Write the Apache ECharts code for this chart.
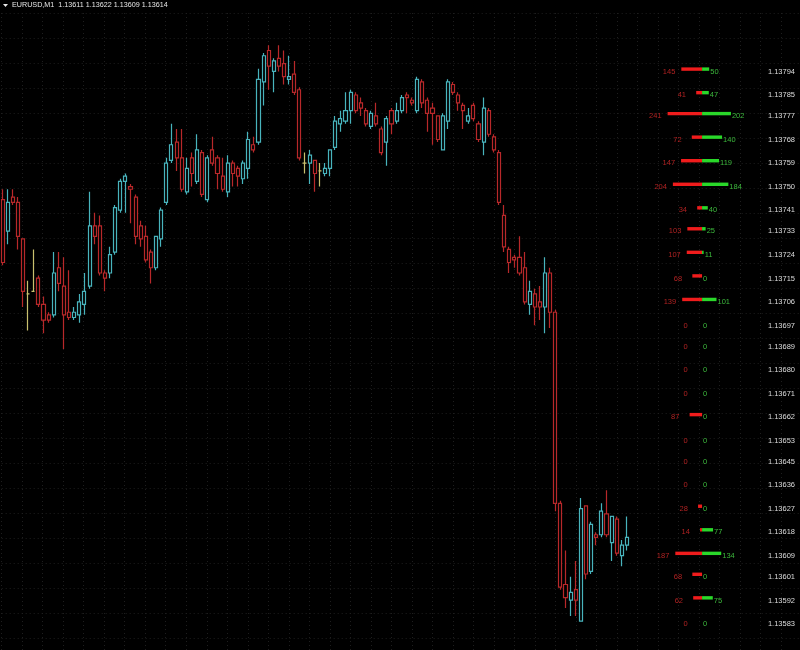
<!DOCTYPE html>
<html><head><meta charset="utf-8">
<script src="https://cdn.jsdelivr.net/npm/echarts/dist/echarts.min.js"></script>
<style>html,body{margin:0;padding:0;background:#000}#c{width:800px;height:650px}</style>
</head><body><div id="c"></div>
<script>
const symbolName = 'EURUSD,M1';
const opens = [1.13743,1.13731,1.13744,1.13742,1.13728,1.13707,1.13708,1.13713,1.13703,1.13699,
1.13699,1.13717,1.13710,1.13700,1.13698,1.13699,1.13703,1.13710,1.13733,1.13733,
1.13715,1.13715,1.13723,1.13739,1.13750,1.13748,1.13744,1.13733,1.13729,1.13723,
1.13717,1.13728,1.13742,1.13758,1.13765,1.13759,1.13746,1.13759,1.13750,1.13761,
1.13743,1.13762,1.13759,1.13752,1.13746,1.13757,1.13755,1.13751,1.13755,1.13764,
1.13765,1.13788,1.13800,1.13792,1.13797,1.13795,1.13789,1.13791,1.13785,1.13757,
1.13757,1.13758,1.13754,1.13753,1.13755,1.13763,1.13772,1.13773,1.13777,1.13783,
1.13780,1.13777,1.13771,1.13775,1.13770,1.13765,1.13777,1.13773,1.13777,1.13783,
1.13781,1.13777,1.13788,1.13781,1.13778,1.13775,1.13762,1.13773,1.13787,1.13783,
1.13779,1.13773,1.13779,1.13772,1.13765,1.13777,1.13767,1.13761,1.13737,1.13724,
1.13721,1.13721,1.13717,1.13703,1.13707,1.13704,1.13702,1.13715,1.13700,1.13627,
1.13596,1.13590,1.13594,1.13582,1.13626,1.13601,1.13615,1.13615,1.13623,1.13612,
1.13621,1.13607,1.13611];
const highs = [1.13747,1.13747,1.13747,1.13744,1.13728,1.13712,1.13724,1.13714,1.13706,1.13700,
1.13723,1.13723,1.13721,1.13716,1.13702,1.13707,1.13715,1.13746,1.13738,1.13737,
1.13716,1.13725,1.13741,1.13751,1.13753,1.13749,1.13745,1.13735,1.13733,1.13724,
1.13729,1.13740,1.13759,1.13772,1.13770,1.13770,1.13759,1.13761,1.13768,1.13762,
1.13760,1.13767,1.13760,1.13759,1.13760,1.13758,1.13756,1.13758,1.13769,1.13767,
1.13793,1.13799,1.13802,1.13797,1.13802,1.13800,1.13798,1.13796,1.13786,1.13761,
1.13762,1.13758,1.13757,1.13757,1.13762,1.13775,1.13777,1.13784,1.13785,1.13784,
1.13782,1.13778,1.13777,1.13780,1.13771,1.13775,1.13778,1.13780,1.13783,1.13784,
1.13782,1.13790,1.13789,1.13782,1.13780,1.13775,1.13776,1.13789,1.13788,1.13784,
1.13780,1.13778,1.13780,1.13773,1.13782,1.13778,1.13768,1.13762,1.13741,1.13725,
1.13722,1.13729,1.13723,1.13712,1.13709,1.13710,1.13721,1.13717,1.13701,1.13628,
1.13609,1.13599,1.13605,1.13629,1.13626,1.13620,1.13616,1.13627,1.13632,1.13622,
1.13622,1.13613,1.13622];
const lows = [1.13718,1.13726,1.13741,1.13724,1.13702,1.13693,1.13708,1.13702,1.13692,1.13696,
1.13698,1.13708,1.13686,1.13697,1.13697,1.13696,1.13699,1.13709,1.13726,1.13714,
1.13708,1.13713,1.13722,1.13738,1.13738,1.13734,1.13726,1.13725,1.13719,1.13711,
1.13716,1.13725,1.13741,1.13757,1.13754,1.13746,1.13745,1.13748,1.13749,1.13744,
1.13742,1.13756,1.13747,1.13746,1.13744,1.13748,1.13748,1.13749,1.13751,1.13761,
1.13764,1.13779,1.13785,1.13784,1.13792,1.13787,1.13787,1.13783,1.13758,1.13753,
1.13749,1.13746,1.13748,1.13752,1.13752,1.13762,1.13769,1.13772,1.13772,1.13776,
1.13775,1.13771,1.13770,1.13771,1.13760,1.13756,1.13768,1.13772,1.13776,1.13776,
1.13779,1.13776,1.13778,1.13769,1.13764,1.13765,1.13762,1.13770,1.13783,1.13777,
1.13770,1.13772,1.13773,1.13765,1.13760,1.13767,1.13761,1.13741,1.13723,1.13715,
1.13717,1.13714,1.13703,1.13699,1.13695,1.13697,1.13692,1.13694,1.13624,1.13594,
1.13587,1.13584,1.13584,1.13582,1.13598,1.13600,1.13611,1.13614,1.13614,1.13605,
1.13607,1.13603,1.13609];
const closes = [1.13719,1.13742,1.13742,1.13729,1.13708,1.13707,1.13708,1.13703,1.13697,1.13697,
1.13715,1.13711,1.13699,1.13698,1.13700,1.13704,1.13708,1.13733,1.13729,1.13715,
1.13713,1.13722,1.13740,1.13750,1.13752,1.13747,1.13729,1.13728,1.13720,1.13717,
1.13729,1.13739,1.13757,1.13764,1.13759,1.13747,1.13755,1.13753,1.13762,1.13745,
1.13759,1.13757,1.13753,1.13747,1.13757,1.13753,1.13752,1.13757,1.13766,1.13762,
1.13789,1.13798,1.13794,1.13796,1.13794,1.13790,1.13790,1.13784,1.13759,1.13757,
1.13760,1.13753,1.13754,1.13755,1.13762,1.13773,1.13774,1.13777,1.13784,1.13777,
1.13778,1.13772,1.13776,1.13772,1.13761,1.13774,1.13772,1.13777,1.13782,1.13782,
1.13780,1.13789,1.13780,1.13776,1.13776,1.13766,1.13775,1.13788,1.13784,1.13780,
1.13777,1.13775,1.13774,1.13766,1.13778,1.13768,1.13762,1.13742,1.13725,1.13719,
1.13720,1.13715,1.13704,1.13708,1.13702,1.13702,1.13715,1.13700,1.13627,1.13595,
1.13591,1.13593,1.13590,1.13625,1.13600,1.13619,1.13614,1.13624,1.13615,1.13622,
1.13608,1.13611,1.13614];
const categories = opens.map((_, i) => 'M' + (i + 1));

const levels = ['1.13794','1.13785','1.13777','1.13768','1.13759','1.13750','1.13741','1.13733','1.13724','1.13715',
'1.13706','1.13697','1.13689','1.13680','1.13671','1.13662','1.13653','1.13645','1.13636','1.13627',
'1.13618','1.13609','1.13601','1.13592','1.13583'];
const sellVol = [145,41,241,72,147,204,34,103,107,68,139,0,0,0,0,87,0,0,0,28,14,187,68,62,0];
const buyVol  = [50,47,202,140,119,184,40,25,11,0,101,0,0,0,0,0,0,0,0,0,77,134,0,75,0];

const BULL = '#48b4bd', BEAR = '#b8282a', DOJI = '#c9c06e';
const last = closes.length - 1;
const fmt = v => v.toFixed(5);
const headerText = symbolName + '  ' + [opens[last], highs[last], lows[last], closes[last]].map(fmt).join(' ');

const candleData = opens.map((o, i) => {
  const item = { value: [o, closes[i], lows[i], highs[i]] };
  if (o === closes[i]) item.itemStyle = { color: DOJI, color0: DOJI, borderColor: DOJI, borderColor0: DOJI };
  return item;
});
const bookData = levels.map((l, i) => [parseFloat(l), sellVol[i], buyVol[i], i]);

const Y_MIN = 1.1357097, Y_MAX = 1.1381929;
const GRID_LINE = { show: true, lineStyle: { color: '#1e1e1e', width: 1, type: [1, 3] } };
const chart = echarts.init(document.getElementById('c'), null, { renderer: 'canvas' });
chart.setOption({
  backgroundColor: '#000000',
  animation: false,
  graphic: [
    { type: 'polygon', left: 3, top: 4, shape: { points: [[0,0],[5,0],[2.5,3]] }, style: { fill: '#e8e8e8' }, z: 100 },
    { type: 'text', left: 12, top: 1.5, style: { text: headerText, fill: '#e6e6e6', font: '7.2px Arial' }, z: 100 }
  ],
  grid: [
    { left: -1, top: 0, width: 630.5, bottom: 0 },
    { left: 0, top: 0, right: 0, bottom: 0 },
    { left: 1.7, top: 13, right: 0, bottom: 0 }
  ],
  xAxis: [
    { type: 'category', gridIndex: 0, data: categories, boundaryGap: true, show: false },
    { type: 'value', gridIndex: 1, min: -4910, max: 685, show: false },
    { type: 'value', gridIndex: 2, min: 0, max: 38.93, interval: 1, axisLine: { show: false }, axisTick: { show: false }, axisLabel: { show: false }, splitLine: GRID_LINE }
  ],
  yAxis: [
    { type: 'value', gridIndex: 0, min: Y_MIN, max: Y_MAX, show: false, scale: true },
    { type: 'value', gridIndex: 1, min: Y_MIN, max: Y_MAX, show: false, scale: true },
    { type: 'value', gridIndex: 2, min: 0, max: 25.48, interval: 1, inverse: true, axisLine: { show: false }, axisTick: { show: false }, axisLabel: { show: false }, splitLine: GRID_LINE }
  ],
  series: [
    {
      type: 'candlestick', xAxisIndex: 0, yAxisIndex: 0, data: candleData,
      barWidth: 3.6,
      itemStyle: { color: '#000', color0: '#000', borderColor: BULL, borderColor0: BEAR, borderWidth: 1.2 },
      z: 5
    },
    {
      type: 'custom', xAxisIndex: 1, yAxisIndex: 1, data: bookData, z: 6,
      renderItem: function (params, api) {
        const price = api.value(0), sell = api.value(1), buy = api.value(2), idx = api.value(3);
        const p0 = api.coord([0, price]);
        const pl = api.coord([-sell, price]);
        const pr = api.coord([buy, price]);
        const cy = p0[1];
        const cs = params.coordSys;
        const ch = [];
        if (sell > 0) ch.push({ type: 'rect', shape: { x: pl[0], y: cy + 1.2, width: p0[0] - pl[0], height: 3.4 }, style: { fill: '#f01c1c' } });
        if (buy > 0) ch.push({ type: 'rect', shape: { x: p0[0], y: cy + 1.2, width: pr[0] - p0[0], height: 3.4 }, style: { fill: '#2ad82a' } });
        ch.push({ type: 'text', x: pl[0] - 18.5, y: cy + 5.5, style: { text: String(sell), fill: '#b02222', font: '7.5px Arial', align: 'left', verticalAlign: 'middle' } });
        ch.push({ type: 'text', x: pr[0] + 1, y: cy + 5.5, style: { text: String(buy), fill: '#3cb83c', font: '7.5px Arial', align: 'left', verticalAlign: 'middle' } });
        ch.push({ type: 'text', x: cs.x + cs.width - 5, y: cy + 5.5, style: { text: levels[idx], fill: '#dcdcdc', font: '7.5px Arial', align: 'right', verticalAlign: 'middle' } });
        return { type: 'group', children: ch };
      },
      markLine: {
        silent: true, symbol: ['none', 'none'], label: { show: false },
        lineStyle: { color: '#6c6c6c', width: 1, type: 'solid' },
        data: [{ yAxis: closes[last] }]
      }
    }
  ]
});
</script></body></html>
